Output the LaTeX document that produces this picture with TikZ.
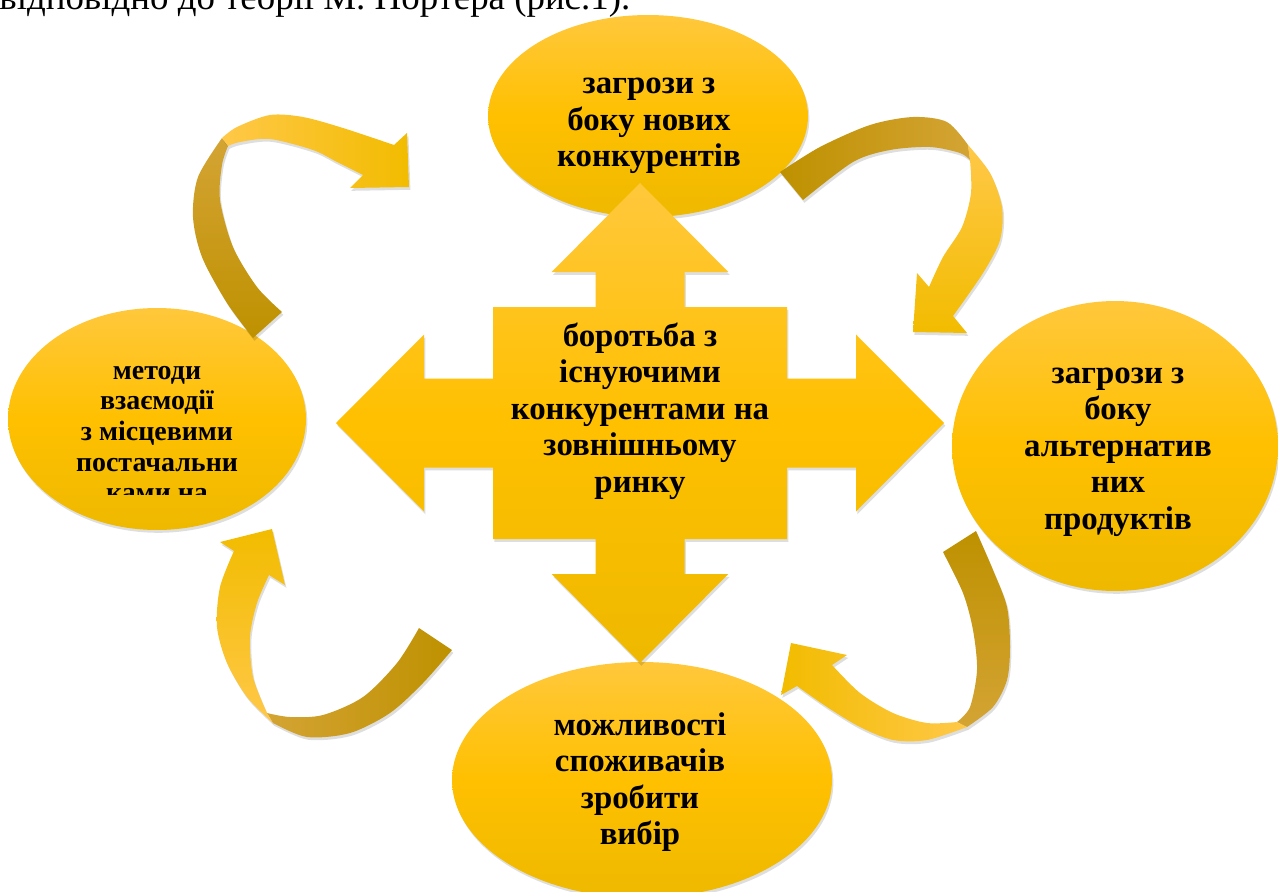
\documentclass[tikz,border=0pt]{standalone}
\usepackage{fontspec}
\setmainfont{Liberation Serif}
\usetikzlibrary{shapes.geometric,shadows}

\definecolor{goldTop}{RGB}{255,200,60}
\definecolor{goldMid}{RGB}{255,192,0}
\definecolor{goldBot}{RGB}{238,185,0}
\definecolor{ribDark}{RGB}{190,145,0}
\definecolor{ribTan}{RGB}{212,164,52}
\definecolor{ribLight}{RGB}{255,200,72}
\definecolor{ribGold}{RGB}{242,188,0}

\begin{document}
\begin{tikzpicture}[
    x=0.02cm, y=-0.02cm,
    shadowed/.style={
        drop shadow={shadow xshift=0.8pt, shadow yshift=-1.6pt,
                     opacity=0.13, fill=black}
    },
    oval/.style={
        ellipse,
        shadowed,
        top color=goldTop, bottom color=goldBot, middle color=goldMid,
        inner sep=0pt
    },
    hub/.style={
        shadowed,
        top color=goldTop, bottom color=goldBot, middle color=goldMid
    },
    ribbon/.style={shadowed},
    lbl/.style={
        font=\fontsize{18.7}{20.8}\selectfont\bfseries,
        align=center,
        inner sep=0pt
    },
    smalllbl/.style={
        lbl,
        font=\fontsize{15.9}{17.4}\selectfont\bfseries
    }
]
\useasboundingbox (0,0) rectangle (1278,892);

% Line of text above the figure
\node[anchor=base west, inner sep=0pt, font=\fontsize{21}{23}\selectfont]
    (intro) at (-1,10) {відповідно до теорії М. Портера (рис.1).};

% Four forces
\node[oval, minimum width=6.4cm, minimum height=4.04cm] (entrants) at (648,116) {};
\node[oval, minimum width=5.96cm, minimum height=4.44cm] (suppliers) at (157,419) {};
\node[oval, minimum width=6.52cm, minimum height=5.8cm] (substitutes) at (1115,446) {};
\node[oval, minimum width=7.6cm, minimum height=4.72cm] (buyers) at (642,780) {};

\node[lbl] (entrantsText) at (649,126) {загрози з\\боку нових\\конкурентів};
\node[lbl] (substitutesText) at (1118,452) {загрози з\\боку\\альтернатив\\них\\продуктів};
\node[lbl] (buyersText) at (640,782) {можливості\\споживачів\\зробити\\вибір};
\begin{scope}
    \clip (40,340) rectangle (280,494);
    \node[smalllbl] (suppliersText) at (157,434)
        {методи\\взаємодії\\з місцевими\\постачальни\\ками на};
\end{scope}

% Central four-way arrow
\begin{scope}[shift={(640,423)}]
\shade[hub] (-44.5,-116) -- (-44.5,-151) -- (-88.3,-151) -- (0,-240)
    -- (88.3,-151) -- (44.5,-151) -- (44.5,-116) -- (147,-116)
    -- (147,-44.5) -- (216,-44.5) -- (216,-88.5) -- (304,0)
    -- (216,88.5) -- (216,44.5) -- (147,44.5) -- (147,116)
    -- (44.5,116) -- (44.5,151) -- (88.3,151) -- (0,240)
    -- (-88.3,151) -- (-44.5,151) -- (-44.5,116) -- (-147,116)
    -- (-147,44.5) -- (-216,44.5) -- (-216,88.5) -- (-304,0)
    -- (-216,-88.5) -- (-216,-44.5) -- (-147,-44.5) -- (-147,-116) -- cycle;
\end{scope}
\node[lbl] (rivalry) at (640,411)
    {боротьба з\\існуючими\\конкурентами на\\зовнішньому\\ринку};

% Curved arrows: suppliers -> entrants
\shade[ribbon, bottom color=ribDark, top color=ribTan]
    plot[smooth] coordinates {(253,338) (227,303) (202,257) (193,217) (198,177) (222,138)}
    -- plot[smooth] coordinates {(228,146) (222,165) (220,200) (233,247) (257,287) (282,312)}
    -- cycle;
\shade[ribbon, left color=ribLight, right color=ribGold]
    plot[smooth] coordinates {(222,138) (237,127) (270,115) (303,117) (343,128) (394,145)}
    -- (407,133) -- (409,187) -- (350,188)
    -- plot[smooth] coordinates {(363,175) (337,162) (313,150) (270,139) (240,142) (228,146)}
    -- cycle;

% entrants -> substitutes
\shade[ribbon, left color=ribDark, right color=ribTan]
    plot[smooth] coordinates {(780,172) (820,147) (870,125) (913,117) (947,122) (968,145)}
    -- plot[smooth] coordinates {(970,160) (960,153) (930,147) (890,150) (853,162) (803,200)}
    -- cycle;
\shade[ribbon, top color=ribLight, bottom color=ribGold]
    plot[smooth] coordinates {(968,145) (990,173) (1002,207) (1000,240) (983,273) (953,316)}
    -- (967,333) -- (913,332) -- (917,273)
    -- plot[smooth] coordinates {(929,287) (943,257) (962,227) (971,193) (970,160)}
    -- cycle;

% substitutes -> buyers
\shade[ribbon, top color=ribDark, bottom color=ribTan]
    plot[smooth] coordinates {(976,531) (993,570) (1007,607) (1010,647) (1007,680) (993,707) (967,727)}
    -- plot[smooth] coordinates {(957,722) (970,707) (977,670) (973,630) (963,593) (943,552)}
    -- cycle;
\shade[ribbon, right color=ribLight, left color=ribGold]
    plot[smooth] coordinates {(967,727) (927,740) (893,740) (860,727) (827,707) (797,686)}
    -- (781,695) -- (791,643) -- (847,655)
    -- plot[smooth] coordinates {(832,665) (860,693) (893,713) (927,723) (957,722)}
    -- cycle;

% buyers -> suppliers
\shade[ribbon, right color=ribDark, left color=ribTan]
    plot[smooth] coordinates {(452,650) (423,683) (390,713) (350,733) (307,737) (273,723)}
    -- plot[smooth] coordinates {(267,713) (290,717) (323,715) (363,697) (397,663) (419,628)}
    -- cycle;
\shade[ribbon, bottom color=ribLight, top color=ribGold]
    plot[smooth] coordinates {(273,723) (247,697) (227,663) (217,627) (220,587) (234,551)}
    -- (220,542) -- (272,529) -- (285,585)
    -- plot[smooth] coordinates {(269,575) (257,603) (250,637) (253,677) (267,713)}
    -- cycle;

\end{tikzpicture}
\end{document}
